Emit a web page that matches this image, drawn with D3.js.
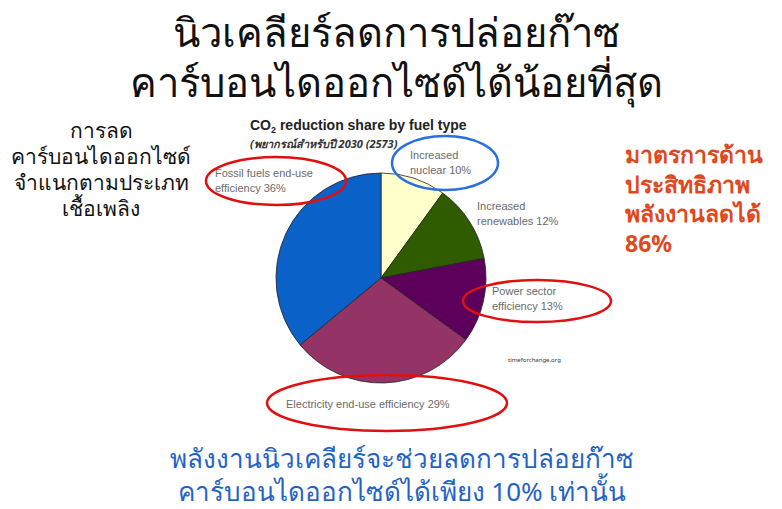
<!DOCTYPE html>
<html>
<head>
<meta charset="utf-8">
<script src="https://cdn.jsdelivr.net/npm/d3@7"></script>
<style>
  body { margin: 0; background: #fff; }
  svg { display: block; font-family: "Noto Sans", "DejaVu Sans", sans-serif; }
</style>
</head>
<body>
<svg width="782" height="509"></svg>
<script>
var width = 782;
var height = 509;

// slices, clockwise from 12 o'clock
var fuels = ['Increased nuclear', 'Increased renewables', 'Power sector efficiency', 'Electricity end-use efficiency', 'Fossil fuels end-use efficiency'];
var shares = [10, 12, 13, 29, 36];
var colors = ['#ffffcc', '#2f5c00', '#5c005c', '#943366', '#0a62c8'];

var titleLines = ['นิวเคลียร์ลดการปล่อยก๊าซ', 'คาร์บอนไดออกไซด์ได้น้อยที่สุด'];
var leftLines = ['การลด', 'คาร์บอนไดออกไซด์', 'จำแนกตามประเภท', 'เชื้อเพลิง'];
var rightLines = ['มาตรการด้าน', 'ประสิทธิภาพ', 'พลังงานลดได้', '86%'];
var bottomLines = ['พลังงานนิวเคลียร์จะช่วยลดการปล่อยก๊าซ', 'คาร์บอนไดออกไซด์ได้เพียง 10% เท่านั้น'];

var labels = [
    ['Increased', 'nuclear 10%'],
    ['Increased', 'renewables 12%'],
    ['Power sector', 'efficiency 13%'],
    ['Electricity end-use efficiency 29%'],
    ['Fossil fuels end-use', 'efficiency 36%']
];
var labelPos = [[410, 159], [477, 210], [492, 295], [286, 408], [215, 177]];
// highlighted labels: [cx, cy, rx, ry, colour]
var rings = [
    [445, 163, 53, 27, '#2a6fe0'],
    [537, 301, 74, 21, '#e01010'],
    [387, 403, 120, 28, '#e01010'],
    [276, 181, 70, 24, '#e01010']
];

var svg = d3.select('svg');

var cx = 381, cy = 278, r = 105;

var pie = d3.pie().sort(null).value(d => d);
var arc = d3.arc().innerRadius(0).outerRadius(r);

svg.append('g')
    .attr('transform', `translate(${cx},${cy})`)
    .selectAll('path')
    .data(pie(shares))
    .enter().append('path')
    .attr('d', arc)
    .attr('fill', (d, i) => colors[i])
    .attr('stroke', '#222')
    .attr('stroke-width', 0.8);

// slice labels
var lab = svg.append('g')
    .attr('font-family', 'Liberation Sans, Arial, sans-serif')
    .attr('font-size', 11)
    .attr('fill', '#6a6a6a');
labels.forEach(function (lines, i) {
    var t = lab.append('text')
        .attr('x', labelPos[i][0])
        .attr('y', labelPos[i][1]);
    lines.forEach(function (s, j) {
        t.append('tspan')
            .attr('x', labelPos[i][0])
            .attr('dy', j ? 15 : 0)
            .text(s);
    });
});

svg.append('g')
    .selectAll('ellipse')
    .data(rings)
    .enter().append('ellipse')
    .attr('cx', d => d[0])
    .attr('cy', d => d[1])
    .attr('rx', d => d[2])
    .attr('ry', d => d[3])
    .attr('fill', 'none')
    .attr('stroke', d => d[4])
    .attr('stroke-width', 2.5);

// chart title
var ct = svg.append('text')
    .attr('x', 250)
    .attr('y', 130)
    .attr('font-family', 'Liberation Sans, Arial, sans-serif')
    .attr('font-size', 14)
    .attr('font-weight', 'bold')
    .attr('fill', '#222');
ct.append('tspan').text('CO');
ct.append('tspan').attr('font-size', 9).attr('dy', 3).text('2');
ct.append('tspan').attr('dy', -3).text(' reduction share by fuel type');

svg.append('text')
    .attr('x', 250)
    .attr('y', 148)
    .attr('font-size', 11)
    .attr('font-style', 'italic')
    .attr('font-weight', 'bold')
    .attr('fill', '#333')
    .text('(พยากรณ์สำหรับปี 2030 (2573)');

svg.append('text')
    .attr('x', 508)
    .attr('y', 362)
    .attr('font-size', 6)
    .attr('fill', '#333')
    .text('timeforchange.org');

function block(lines, x, y0, step, size, fill, anchor, weight) {
    svg.append('g').selectAll('text')
        .data(lines)
        .enter().append('text')
        .attr('x', x)
        .attr('y', (d, i) => y0 + i * step)
        .attr('font-size', size)
        .attr('font-weight', weight)
        .attr('fill', fill)
        .attr('text-anchor', anchor)
        .text(d => d);
}

block(titleLines, 396, 47, 50, 40, '#111', 'middle', 'normal');
block(leftLines, 101, 138, 26, 21, '#111', 'middle', 'normal');
block(rightLines, 625, 163, 29.5, 23, '#e0481c', 'start', 'bold');
block(bottomLines, 402, 468, 33, 26, '#1f63c6', 'middle', 'normal');
</script>
</body>
</html>
